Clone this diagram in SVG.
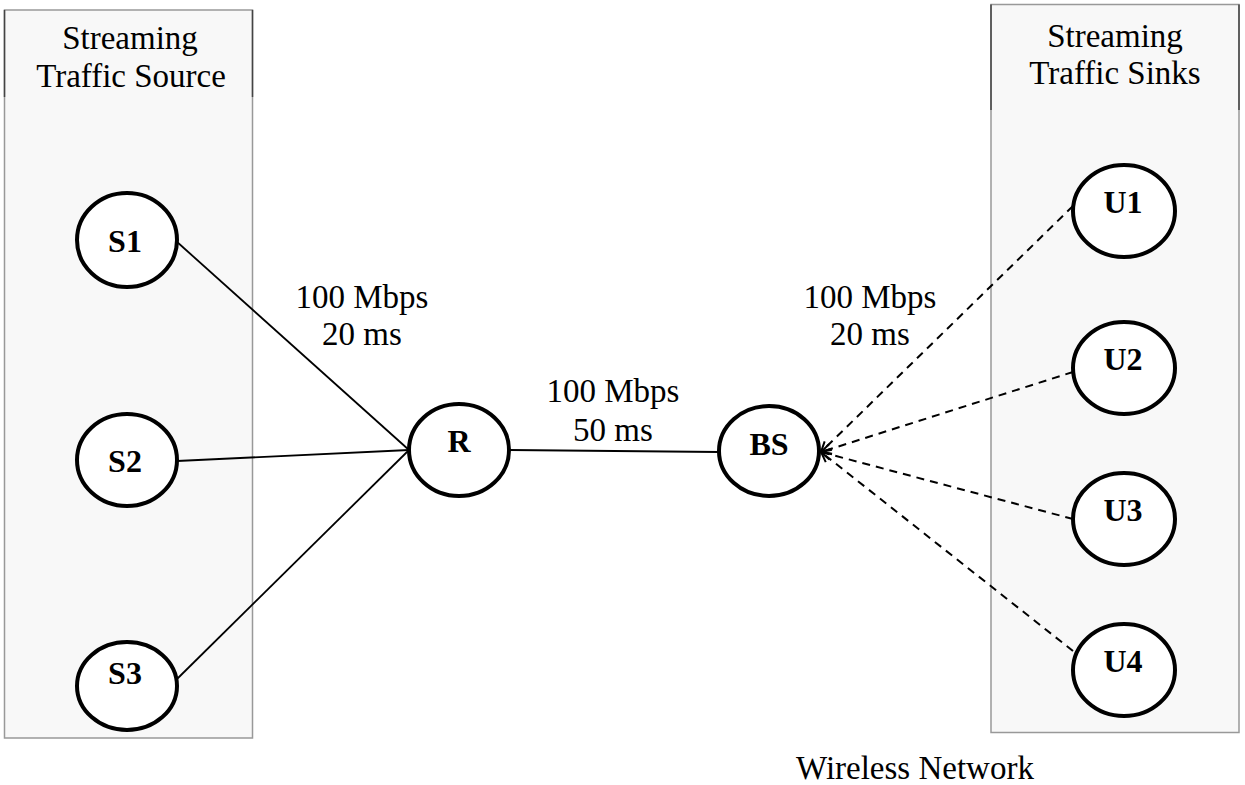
<svg xmlns="http://www.w3.org/2000/svg" width="1245" height="785" viewBox="0 0 1245 785">
<style>
.box{fill:#f8f8f8;stroke:#999;stroke-width:1.5}
.hdr{stroke:#444;stroke-width:1.5}
.node{fill:#fff;stroke:#000;stroke-width:4}
.lbl{font-family:"Liberation Serif","Times New Roman",serif;font-weight:bold;font-size:32px;text-anchor:middle;fill:#000}
.txt{font-family:"Liberation Serif","Times New Roman",serif;font-size:33px;text-anchor:middle;fill:#000}
.solid{stroke:#000;stroke-width:1.8;fill:none}
.dash{stroke:#000;stroke-width:2;fill:none;stroke-dasharray:8 6}
</style>
<defs>
<marker id="arr" markerWidth="14" markerHeight="14" refX="12" refY="7" orient="auto" markerUnits="userSpaceOnUse">
<path d="M2,2 L12,7 L2,12" fill="none" stroke="#000" stroke-width="2"/>
</marker>
</defs>
<rect width="1245" height="785" fill="#fff"/>
<g id="source-box">
<rect class="box" x="4.5" y="10" width="248" height="728"/>
<line class="hdr" x1="4.5" y1="10" x2="4.5" y2="97"/>
<line class="hdr" x1="252.5" y1="10" x2="252.5" y2="97"/>
<text class="txt" x="130" y="49">Streaming</text>
<text class="txt" x="131" y="87">Traffic Source</text>
</g>
<g id="sink-box">
<rect class="box" x="991" y="4.5" width="248" height="728"/>
<line class="hdr" x1="991" y1="4.5" x2="991" y2="110"/>
<line class="hdr" x1="1239" y1="4.5" x2="1239" y2="110"/>
<text class="txt" x="1115" y="47">Streaming</text>
<text class="txt" x="1115" y="84">Traffic Sinks</text>
</g>
<g id="connectors">
<line class="solid" x1="176" y1="241" x2="409" y2="450"/>
<line class="solid" x1="177" y1="461" x2="409" y2="450"/>
<line class="solid" x1="176" y1="680" x2="409" y2="450"/>
<line class="solid" x1="510" y1="450" x2="719" y2="452"/>
<line class="dash" x1="1073" y1="206" x2="821" y2="452" marker-end="url(#arr)"/>
<line class="dash" x1="1073" y1="372" x2="821" y2="452" marker-end="url(#arr)"/>
<line class="dash" x1="1073" y1="519" x2="821" y2="452" marker-end="url(#arr)"/>
<line class="dash" x1="1073" y1="651" x2="821" y2="452" marker-end="url(#arr)"/>
<text class="txt" x="362" y="308">100 Mbps</text>
<text class="txt" x="362" y="345">20 ms</text>
<text class="txt" x="613" y="402">100 Mbps</text>
<text class="txt" x="613" y="441">50 ms</text>
<text class="txt" x="870" y="308">100 Mbps</text>
<text class="txt" x="870" y="345">20 ms</text>
</g>
<g id="S1"><ellipse class="node" cx="127" cy="240" rx="50" ry="47"/><text class="lbl" x="125" y="252">S1</text></g>
<g id="S2"><ellipse class="node" cx="127" cy="460" rx="50" ry="46"/><text class="lbl" x="125" y="472">S2</text></g>
<g id="S3"><ellipse class="node" cx="127" cy="686" rx="50" ry="44"/><text class="lbl" x="125" y="684">S3</text></g>
<g id="R"><ellipse class="node" cx="459" cy="450" rx="50" ry="46"/><text class="lbl" x="459" y="452">R</text></g>
<g id="BS"><ellipse class="node" cx="769" cy="451" rx="50" ry="45"/><text class="lbl" x="769" y="455">BS</text></g>
<g id="U1"><ellipse class="node" cx="1124" cy="211" rx="51" ry="46"/><text class="lbl" x="1123" y="213">U1</text></g>
<g id="U2"><ellipse class="node" cx="1124" cy="368" rx="51" ry="46"/><text class="lbl" x="1123" y="370">U2</text></g>
<g id="U3"><ellipse class="node" cx="1124" cy="519" rx="51" ry="46"/><text class="lbl" x="1123" y="521">U3</text></g>
<g id="U4"><ellipse class="node" cx="1124" cy="670" rx="51" ry="46"/><text class="lbl" x="1123" y="672">U4</text></g>
<text class="txt" x="915" y="779">Wireless Network</text>
</svg>
